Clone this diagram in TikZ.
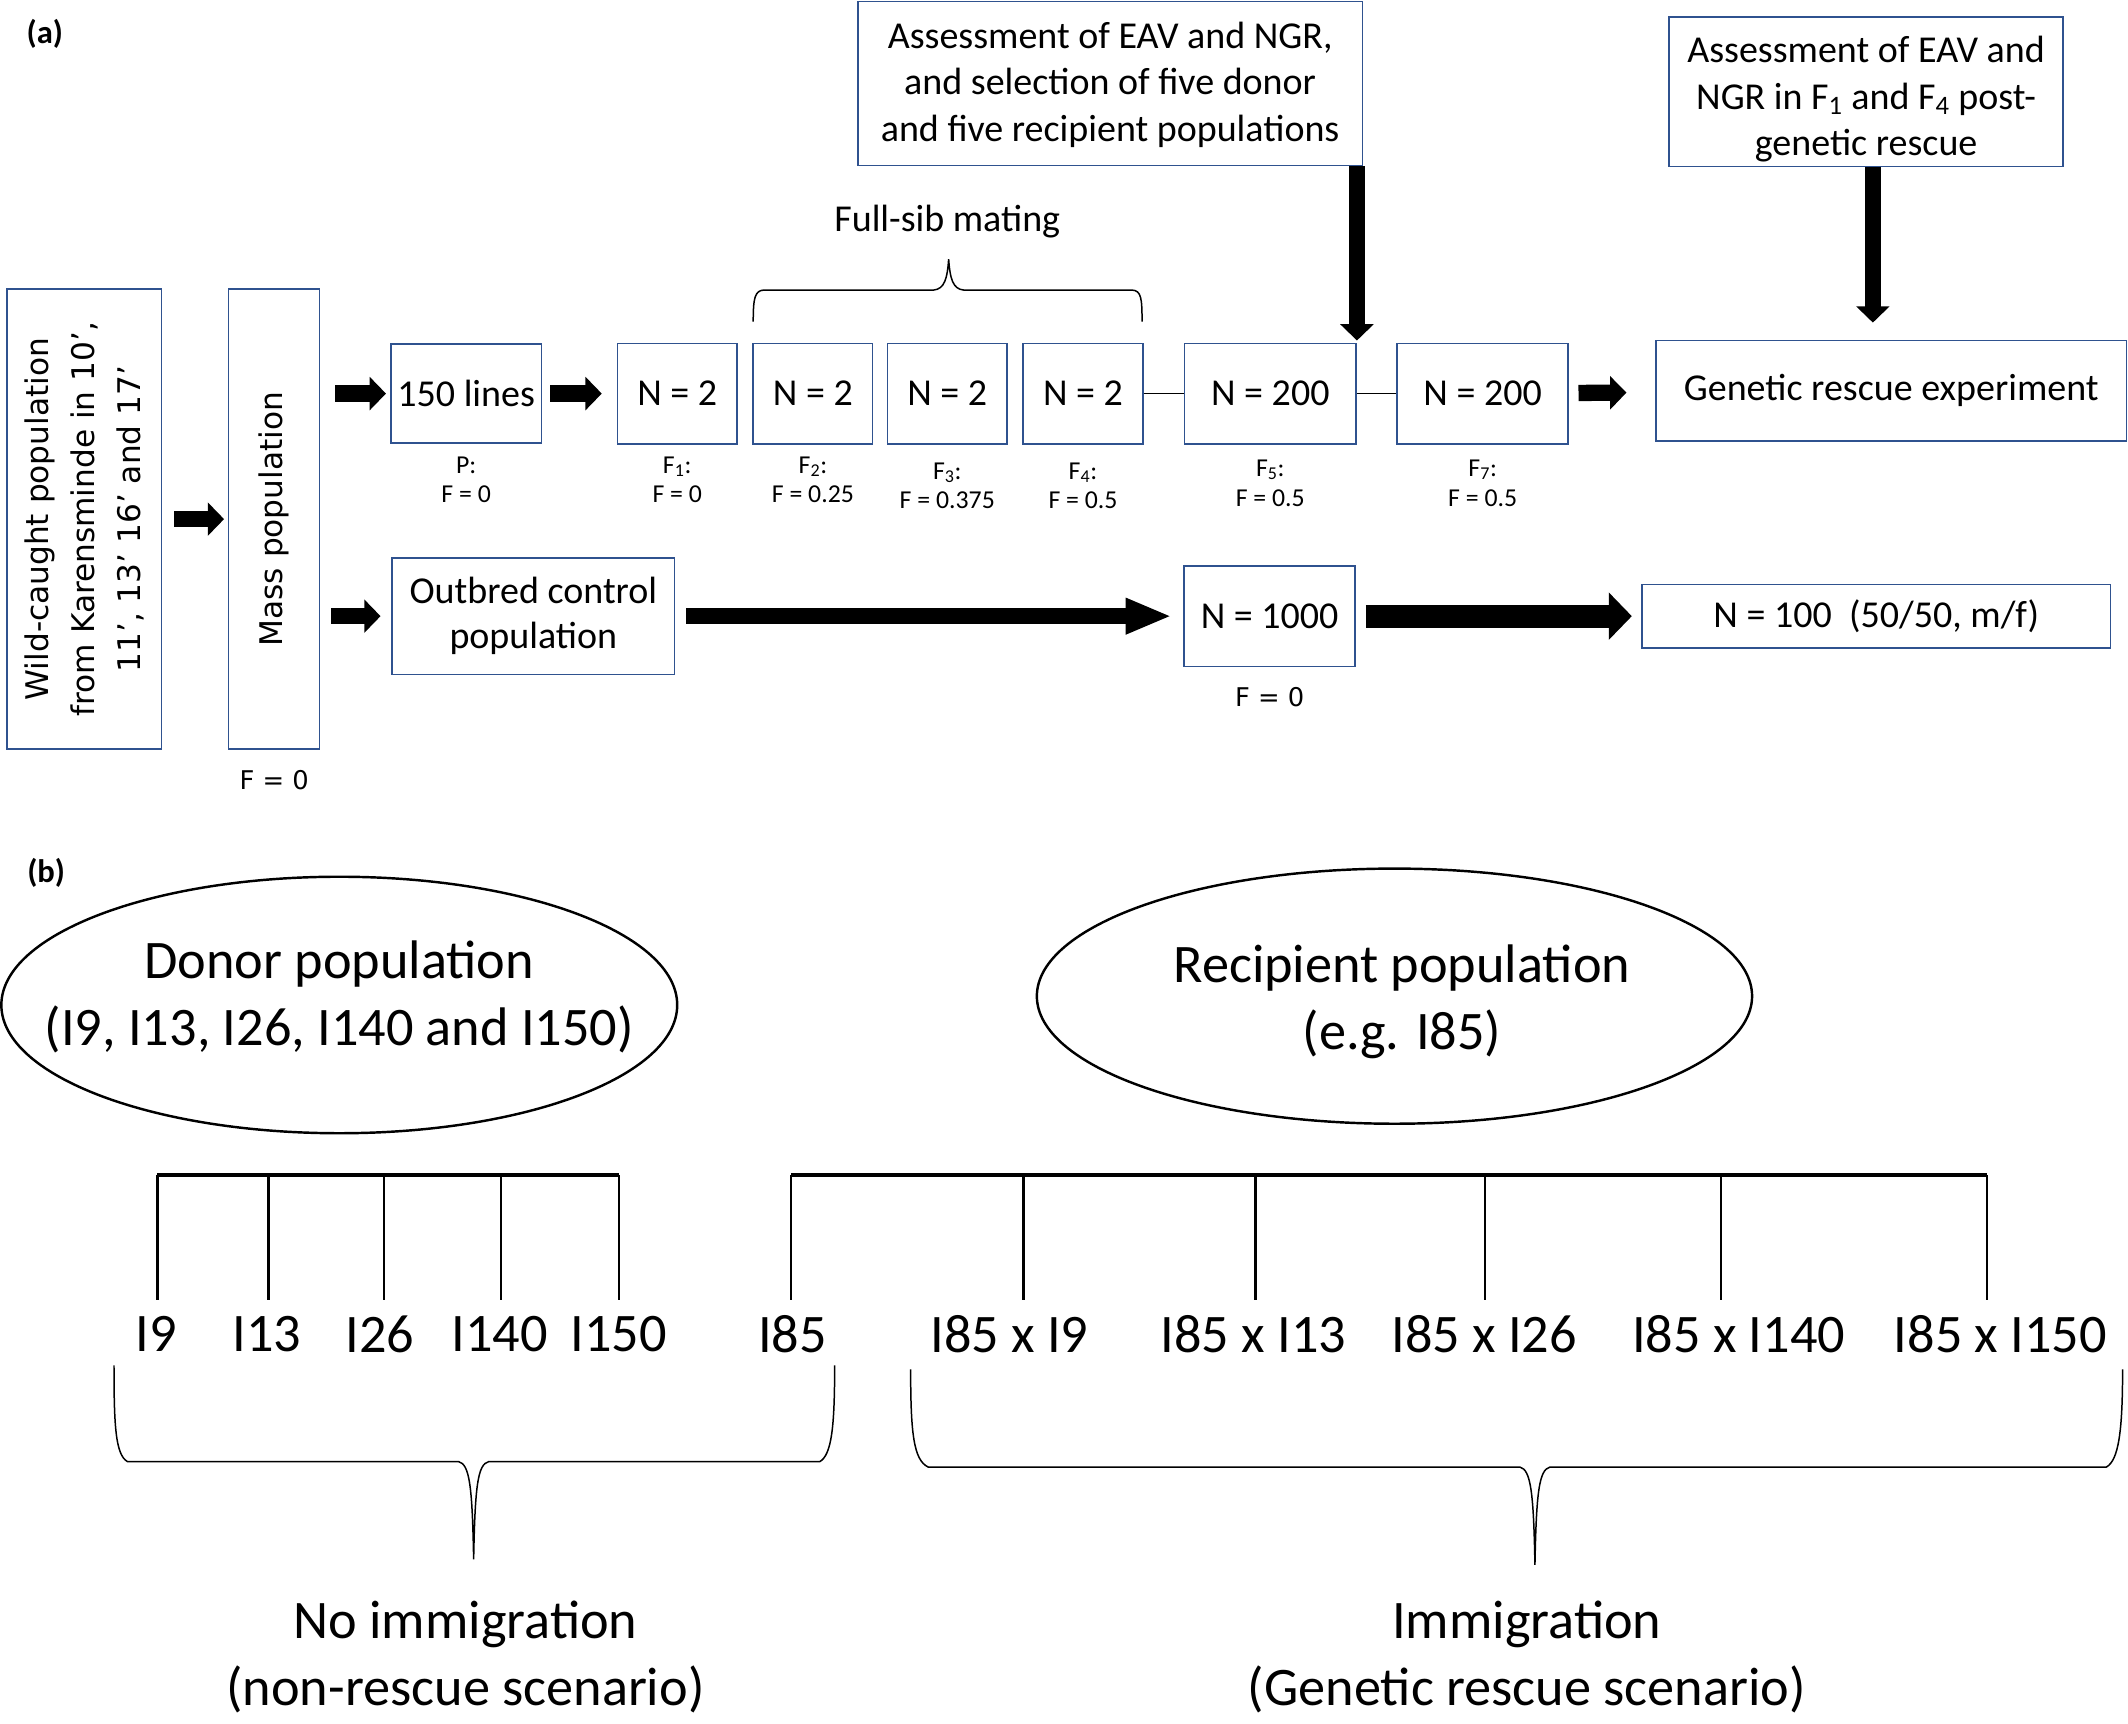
\documentclass[tikz,border=0pt]{standalone}
\usepackage{fontspec}
\setmainfont{Carlito}
\newfontfamily\verd{DejaVu Sans}
\usetikzlibrary{arrows.meta,shapes.geometric}
\definecolor{rahmen}{RGB}{47,82,143}
\def\gross{\fontsize{28}{34}\selectfont}
\def\klein{\fontsize{19}{22}\selectfont}
\def\riesig{\fontsize{40}{49}\selectfont}
% Generation: Name, x, Breite, Text, y der Beschriftung, Beschriftung
\def\gen#1#2#3#4#5#6{
	\node[kasten, minimum width=#3pt, minimum height=74pt] (#1) at (#2,290) {#4};
	\node[fwert] (#1w) at (#2,#5) {#6};
}

\begin{document}
\begin{tikzpicture}[x=1pt,y=-1pt,
	kasten/.style={draw=rahmen,line width=1.2pt,inner sep=0pt,align=center,font=\gross},
	fwert/.style={inner sep=0pt,align=center,font=\klein},
	pfeil/.style={line width=12pt,-{Triangle[width=24pt,length=12pt]}},
	linie/.style={line width=1.1pt},
	klammer/.style={line width=1.1pt},
	oval/.style={draw,ellipse,line width=1.8pt,inner sep=0pt},
	etikett/.style={inner sep=0pt,align=center,font=\riesig},
	teil/.style={inner sep=0pt,font=\fontsize{24}{24}\selectfont\bfseries}]
\useasboundingbox (0,0) rectangle (1568,1270);

% (a)
\node[teil] (ta) at (33,25) {(a)};
\node[kasten,rotate=90,minimum width=339pt,minimum height=114pt,font=\verd\fontsize{23}{34}\selectfont]
	(wild) at (62,382.5) {Wild-caught population\\from Karensminde in 10’,\\11’, 13’ 16’ and 17’};
\node[kasten,rotate=90,minimum width=339pt,minimum height=67pt,font=\verd\fontsize{23}{34}\selectfont]
	(mass) at (202,382.5) {Mass population};
\node[font=\verd\fontsize{19}{19}\selectfont,inner sep=0pt] (massf) at (202,575) {F = 0};

\node[kasten,minimum width=111pt,minimum height=73pt] (lines150) at (343.5,290) {150 lines};
\node[fwert] (lines150w) at (343.5,353.5) {P:\\F = 0};
\gen{f1}{499}{88}{N = 2}{353.5}{F\textsubscript{1}:\\F = 0}
\gen{f2}{599}{88}{N = 2}{353.5}{F\textsubscript{2}:\\F = 0.25}
\gen{f3}{698}{88}{N = 2}{358}{F\textsubscript{3}:\\F = 0.375}
\gen{f4}{798}{88}{N = 2}{358}{F\textsubscript{4}:\\F = 0.5}
\gen{f5}{936}{126.5}{N = 200}{356}{F\textsubscript{5}:\\F = 0.5}
\gen{f7}{1092.5}{126}{N = 200}{356}{F\textsubscript{7}:\\F = 0.5}
\node[kasten,minimum width=347pt,minimum height=74pt] (gre) at (1393.5,288) {Genetic rescue experiment};

\node[kasten,minimum width=372pt,minimum height=121pt] (assess1) at (818,61.5) {};
\node[fwert,font=\gross] (assess1text) at (818,62.5)
	{Assessment of EAV and NGR,\\and selection of five donor\\and five recipient populations};
\node[kasten,minimum width=290pt,minimum height=110pt] (assess2) at (1375,67.7) {};
\node[fwert,font=\gross] (assess2text) at (1375,73)
	{Assessment of EAV and\\NGR in F\textsubscript{1} and F\textsubscript{4} post-\\genetic rescue};

\node[kasten,minimum width=208pt,minimum height=86pt,font=\fontsize{28}{33}\selectfont] (outbred) at (393,454) {Outbred control\\population};
\node[kasten,minimum width=126pt,minimum height=74pt] (n1000) at (935.5,454) {N = 1000};
\node[font=\verd\fontsize{19}{19}\selectfont,inner sep=0pt] (n1000f) at (935.5,514) {F = 0};
\node[kasten,minimum width=345pt,minimum height=46.5pt] (n100) at (1382.5,454) {N = 100~~(50/50, m/f)};

\draw[pfeil,shorten <=8.7pt,shorten >=2.8pt] (wild) -- (mass);
\draw[pfeil,shorten <=11pt,shorten >=3pt] (mass.south |- lines150) -- (lines150);
\draw[pfeil,shorten <=6pt,shorten >=11pt] (lines150) -- (f1);
\draw[linie] (f4) -- (f5);
\draw[linie] (f5) -- (f7);
\draw[pfeil,shorten <=7pt,shorten >=21pt] (f7) -- (gre);
\draw[pfeil,shorten >=1.5pt] (assess1.south -| f5.north east) -- (f5.north east);
\draw[pfeil,shorten >=12.7pt] ([xshift=5pt]assess2.south) -- ([xshift=5pt]assess2.south |- gre.north);
\draw[pfeil,shorten <=8pt,shorten >=8pt] (mass.south |- outbred) -- (outbred);
\draw[pfeil,-{Triangle[width=24.5pt,length=34pt]},shorten <=8pt,shorten >=8.5pt] (outbred) -- (n1000);
\draw[pfeil,line width=17pt,-{Triangle[width=34pt,length=17pt]},shorten <=7.4pt,shorten >=7pt] (n1000) -- (n100);

\draw[klammer] (555,237) .. controls (555,220) and (556,214) .. (563,213.7) -- (688,213.7)
	.. controls (696,213) and (698,205) .. (699,191) .. controls (700,205) and (702,213) .. (710,213.7)
	-- (834,213.7) .. controls (841,214) and (841.5,220) .. (841.5,237);
\node[inner sep=0pt,font=\gross] (fullsib) at (698,163) {Full-sib mating};

% (b)
\node[teil] (tb) at (34,643) {(b)};
\node[oval,minimum width=498pt,minimum height=189pt] (donor) at (250,740.5) {};
\node[etikett] (donortext) at (250,734.5) {Donor population\\(I9, I13, I26, I140 and I150)};
\node[oval,minimum width=527pt,minimum height=188pt] (recip) at (1027.5,734) {};
\node[etikett] (reciptext) at (1033,738) {Recipient population\\(e.g. I85)};

\draw[line width=2.8pt] (116,866) -- (456,866);
\foreach \x in {116,198,283,369,456} \draw[line width=1.8pt] (\x,866) -- (\x,958);
\draw[line width=2.8pt] (583,866) -- (1464,866);
\foreach \x in {583,754,925,1094,1268,1464} \draw[line width=1.8pt] (\x,866) -- (\x,958);

\foreach \x/\t/\n in {115/I9/i9,196.5/I13/i13,280/I26/i26,368/I140/i140,455.7/I150/i150,584/I85/i85,
	743.7/I85 x I9/r9,923.5/I85 x I13/r13,1093.5/I85 x I26/r26,1281/I85 x I140/r140,1474/I85 x I150/r150}
	\node[etikett] (\n) at (\x,983) {\t};

\draw[klammer] (84,1006) .. controls (84,1050) and (85,1072) .. (94,1077) -- (338,1077)
	.. controls (346,1079) and (348,1095) .. (349,1149) .. controls (350,1095) and (352,1079) .. (360,1077)
	-- (604,1077) .. controls (613,1072) and (615,1050) .. (615,1006);
\draw[klammer] (671,1009) .. controls (671,1055) and (673,1076) .. (684,1081) -- (1120,1081)
	.. controls (1128,1083) and (1130,1100) .. (1131,1153) .. controls (1132,1100) and (1134,1083) .. (1142,1081)
	-- (1552,1081) .. controls (1561,1076) and (1564,1055) .. (1564,1009);

\node[etikett] (keine) at (343,1221) {No immigration\\(non-rescue scenario)};
\node[etikett] (immig) at (1125,1221) {Immigration\\(Genetic rescue scenario)};
\end{tikzpicture}
\end{document}
